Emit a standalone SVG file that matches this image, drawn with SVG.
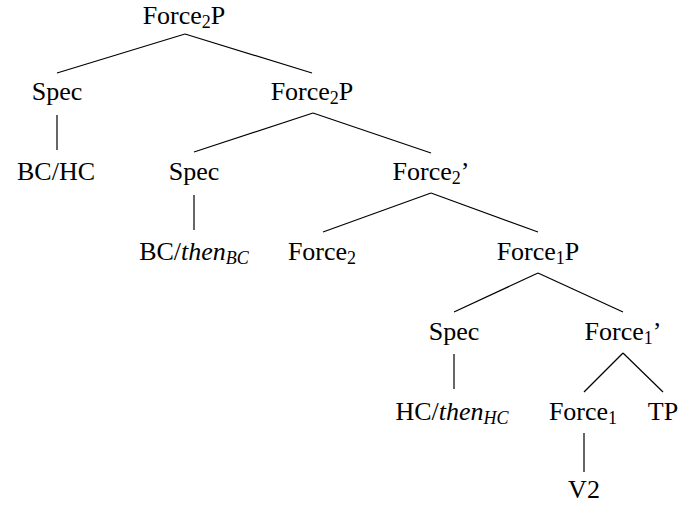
<svg xmlns="http://www.w3.org/2000/svg" width="678" height="505" viewBox="0 0 678 505">
<style>
text{font-family:"Liberation Serif","DejaVu Serif",serif;font-size:26px;fill:#000;text-anchor:middle}
.sub{font-size:18px}
.it{font-style:italic}
line{stroke:#000;stroke-width:1.2}
</style>
<rect width="678" height="505" fill="#fff"/>
<g id="connectors">
<line x1="185" y1="34" x2="57" y2="73"/>
<line x1="185" y1="34" x2="312" y2="73"/>
<line x1="57" y1="115" x2="57" y2="150"/>
<line x1="313" y1="113" x2="194" y2="152"/>
<line x1="313" y1="113" x2="431" y2="153"/>
<line x1="194" y1="195" x2="194" y2="230"/>
<line x1="431" y1="193" x2="323" y2="232"/>
<line x1="431" y1="193" x2="538" y2="232"/>
<line x1="538" y1="273" x2="454" y2="312"/>
<line x1="538" y1="273" x2="623" y2="312"/>
<line x1="454" y1="354" x2="454" y2="389"/>
<line x1="623" y1="353" x2="584" y2="392"/>
<line x1="623" y1="353" x2="663" y2="392"/>
<line x1="584" y1="433" x2="584" y2="472"/>
</g>
<g id="n_root"><text x="184" y="24">Force<tspan class="sub" dy="4">2</tspan><tspan dy="-4">P</tspan></text></g>
<g id="n_spec1"><text x="57" y="100">Spec</text></g>
<g id="n_force2p"><text x="312" y="100">Force<tspan class="sub" dy="4">2</tspan><tspan dy="-4">P</tspan></text></g>
<g id="n_bchc"><text x="56" y="180">BC/HC</text></g>
<g id="n_spec2"><text x="194" y="180">Spec</text></g>
<g id="n_force2bar"><text x="431" y="180">Force<tspan class="sub" dy="4">2</tspan><tspan dy="-4">’</tspan></text></g>
<g id="n_bcthen"><text x="194" y="260">BC/<tspan class="it">then</tspan><tspan class="sub it" dy="4">BC</tspan></text></g>
<g id="n_force2"><text x="322" y="260">Force<tspan class="sub" dy="4">2</tspan></text></g>
<g id="n_force1p"><text x="538" y="260">Force<tspan class="sub" dy="4">1</tspan><tspan dy="-4">P</tspan></text></g>
<g id="n_spec3"><text x="454" y="340">Spec</text></g>
<g id="n_force1bar"><text x="623" y="340">Force<tspan class="sub" dy="4">1</tspan><tspan dy="-4">’</tspan></text></g>
<g id="n_hcthen"><text x="452" y="420">HC/<tspan class="it">then</tspan><tspan class="sub it" dy="4">HC</tspan></text></g>
<g id="n_force1"><text x="583" y="420">Force<tspan class="sub" dy="4">1</tspan></text></g>
<g id="n_tp"><text x="663" y="420">TP</text></g>
<g id="n_v2"><text x="584" y="498">V2</text></g>
</svg>
